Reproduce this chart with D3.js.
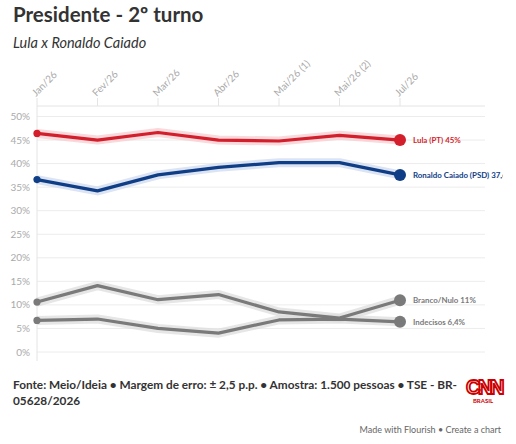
<!DOCTYPE html>
<html>
<head>
<meta charset="utf-8">
<script src="https://cdn.jsdelivr.net/npm/d3@7"></script>
<style>
  body { margin: 0; background: #fff; font-family: Lato, "Noto Sans", sans-serif; }
</style>
</head>
<body>
<div id="chart"></div>
<script>
// dados da pesquisa
var months = ["Jan/26", "Fev/26", "Mar/26", "Abr/26", "Mai/26 (1)", "Mai/26 (2)", "Jul/26"];
var lula = [46.4, 45, 46.6, 45, 44.8, 46, 45];
var caiado = [36.6, 34.2, 37.6, 39.2, 40.2, 40.2, 37.6];
var branco = [10.6, 14.1, 11.1, 12.2, 8.5, 7.2, 11];
var indecisos = [6.7, 7, 5, 4, 6.8, 7, 6.4];
var yTicks = [0, 5, 10, 15, 20, 25, 30, 35, 40, 45, 50];
var seriesNames = ["Lula (PT) 45%", "Ronaldo Caiado (PSD) 37,6%", "Branco/Nulo 11%", "Indecisos 6,4%"];

var width = 516, height = 444;
var plotTop = 106, plotBottom = 352, plotLeft = 37, plotRight = 485;

var series = [
  {name: seriesNames[0], values: lula, color: "#d21f2b", glow: "#f6c9cc"},
  {name: seriesNames[1], values: caiado, color: "#0f3e86", glow: "#cdd9ee"},
  {name: seriesNames[2], values: branco, color: "#7a7a7a", glow: "#dcdcdc"},
  {name: seriesNames[3], values: indecisos, color: "#7a7a7a", glow: "#dcdcdc"}
];

var svg = d3.select("#chart").append("svg")
    .attr("width", width)
    .attr("height", height);

var x = d3.scalePoint().domain(months).range([plotLeft, 400]);
var y = d3.scaleLinear().domain([0, 50]).range([plotBottom, 116.5]);

// titulo
svg.append("text")
    .attr("x", 13).attr("y", 22)
    .style("font-size", "20.5px").style("font-weight", "bold").style("fill", "#333")
    .text("Presidente - 2º turno");
svg.append("text")
    .attr("x", 13).attr("y", 48)
    .style("font-size", "14.5px").style("font-style", "italic").style("fill", "#333")
    .text("Lula x Ronaldo Caiado");

// grade
svg.append("g").selectAll("line")
    .data(yTicks).enter().append("line")
    .attr("x1", plotLeft).attr("x2", plotRight)
    .attr("y1", function(d) { return y(d); })
    .attr("y2", function(d) { return y(d); })
    .style("stroke", "#ececec").style("stroke-width", 1);

svg.append("line")
    .attr("x1", plotLeft).attr("x2", plotRight).attr("y1", plotTop).attr("y2", plotTop)
    .style("stroke", "#e4e4e4");
svg.append("line")
    .attr("x1", plotLeft).attr("x2", plotLeft).attr("y1", plotTop).attr("y2", plotBottom + 9)
    .style("stroke", "#e4e4e4");

svg.append("g").selectAll("text")
    .data(yTicks).enter().append("text")
    .attr("x", 30)
    .attr("y", function(d) { return y(d) + 3.5; })
    .attr("text-anchor", "end")
    .style("font-size", "10px").style("fill", "#aaa")
    .text(function(d) { return d + "%"; });

// eixo x no topo
svg.append("g").selectAll("line")
    .data(months).enter().append("line")
    .attr("x1", function(d) { return x(d); })
    .attr("x2", function(d) { return x(d); })
    .attr("y1", plotTop - 8).attr("y2", plotTop)
    .style("stroke", "#e4e4e4");

svg.append("g").selectAll("text")
    .data(months).enter().append("text")
    .attr("transform", function(d) { return "translate(" + (x(d) - 1) + "," + (plotTop - 9) + ") rotate(-45)"; })
    .style("font-size", "10px").style("fill", "#aaa")
    .text(function(d) { return d; });

var line = d3.line()
    .x(function(d, i) { return x(months[i]); })
    .y(function(d) { return y(d); });

svg.append("clipPath").attr("id", "clip")
  .append("rect").attr("x", 0).attr("y", 0).attr("width", 503).attr("height", height);

var g = svg.append("g");

// halo por baixo
g.selectAll(".glow")
    .data(series).enter().append("path")
    .attr("class", "glow")
    .attr("d", function(d) { return line(d.values); })
    .style("fill", "none")
    .style("stroke", function(d) { return d.glow; })
    .style("stroke-width", 9)
    .style("stroke-linejoin", "round")
    .style("opacity", 0.7);

g.selectAll(".serie")
    .data(series).enter().append("path")
    .attr("class", "serie")
    .attr("d", function(d) { return line(d.values); })
    .style("fill", "none")
    .style("stroke", function(d) { return d.color; })
    .style("stroke-width", 3.2)
    .style("stroke-linejoin", "round");

// ponto inicial
g.selectAll(".first")
    .data(series).enter().append("circle")
    .attr("cx", x(months[0]))
    .attr("cy", function(d) { return y(d.values[0]); })
    .attr("r", 3.6)
    .style("fill", function(d) { return d.color; });

// ponto final + rotulo
var last = months.length - 1;
g.selectAll(".last")
    .data(series).enter().append("circle")
    .attr("cx", x(months[last]))
    .attr("cy", function(d) { return y(d.values[last]); })
    .attr("r", 6)
    .style("fill", function(d) { return d.color; });

g.selectAll(".label")
    .data(series).enter().append("text")
    .attr("clip-path", "url(#clip)")
    .attr("x", x(months[last]) + 13)
    .attr("y", function(d) { return y(d.values[last]) + 3; })
    .style("font-size", "7.9px").style("font-weight", "bold")
    .style("fill", function(d) { return d.color; })
    .text(function(d) { return d.name; });

// rodape
var foot = svg.append("text")
    .style("font-size", "11.8px").style("font-weight", "bold").style("fill", "#333");
foot.append("tspan").attr("x", 13).attr("y", 389)
    .text("Fonte: Meio/Ideia • Margem de erro: ± 2,5 p.p. • Amostra: 1.500 pessoas • TSE - BR-");
foot.append("tspan").attr("x", 13).attr("y", 405)
    .text("05628/2026");

// logo CNN
svg.append("text")
    .attr("x", 484).attr("y", 394)
    .attr("text-anchor", "middle")
    .style("font-size", "20px").style("font-weight", "bold").style("letter-spacing", "-2.5px")
    .style("fill", "none").style("stroke", "#cc0000").style("stroke-width", 1.8)
    .style("font-family", "Liberation Sans, sans-serif")
    .text("CNN");
svg.append("text")
    .attr("x", 483).attr("y", 403)
    .attr("text-anchor", "middle")
    .style("font-size", "6px").style("font-weight", "bold").style("fill", "#cc0000")
    .text("BRASIL");

svg.append("text")
    .attr("x", 501).attr("y", 433)
    .attr("text-anchor", "end")
    .style("font-size", "9px").style("fill", "#666")
    .text("Made with Flourish • Create a chart");
</script>
</body>
</html>
